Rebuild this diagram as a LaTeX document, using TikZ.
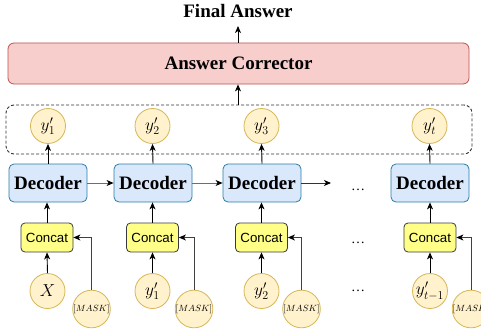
\documentclass[tikz,border=0pt]{standalone}
\usepackage[no-math]{fontspec}
\setmainfont{Liberation Serif}
\setsansfont{Liberation Sans}
\usetikzlibrary{arrows.meta}
\definecolor{ylfill}{HTML}{FFF2CC}
\definecolor{ylline}{HTML}{D6B656}
\definecolor{decfill}{HTML}{DAE8FC}
\definecolor{decline}{HTML}{2B7CA6}
\definecolor{catfill}{HTML}{FFFF88}
\definecolor{catline}{HTML}{36393D}
\definecolor{corfill}{HTML}{F8CECC}
\definecolor{corline}{HTML}{B85450}
\definecolor{hline}{HTML}{6E6E6E}
\definecolor{dashc}{HTML}{333333}
\begin{document}
\begin{tikzpicture}[x=1pt,y=-1pt,
  arr/.style={-{Stealth[length=7pt,width=6pt,inset=2pt,color=black]}, line width=0.9pt, draw=black},
  ycirc/.style={circle, draw=ylline, fill=ylfill, line width=0.8pt, minimum size=35pt, inner sep=0pt, font=\fontsize{17}{17}\selectfont},
  maskcirc/.style={circle, draw=ylline, fill=ylfill, line width=0.8pt, minimum size=36pt, inner sep=0pt, font=\fontsize{8.7}{9}\selectfont},
  decbox/.style={rectangle, rounded corners=5pt, draw=decline, fill=decfill, line width=0.8pt, minimum width=78pt, minimum height=38pt, inner sep=0pt, font=\fontsize{19}{19}\selectfont\bfseries},
  catbox/.style={rectangle, rounded corners=4pt, draw=catline, fill=catfill, line width=0.8pt, minimum width=52pt, minimum height=29pt, inner sep=0pt, font=\sffamily\fontsize{13.3}{14}\selectfont},
  dotsnode/.style={anchor=base, inner sep=0pt, font=\fontsize{14}{14}\selectfont},
]
\clip (0,0) rectangle (481,329);

% top
\node[inner sep=0pt, font=\fontsize{19}{19}\selectfont\bfseries] (fin) at (238,11) {Final Answer};
\node[rectangle, rounded corners=6pt, draw=corline, fill=corfill, line width=0.8pt, minimum width=461pt, minimum height=41pt, inner sep=0pt, font=\fontsize{19}{19}\selectfont\bfseries] (corr) at (238.5,63.5) {Answer Corrector};
\coordinate (finend) at (238,26);
\draw[arr] (corr.north -| finend) -- (finend);

\node[draw=dashc, dashed, dash pattern=on 3pt off 2pt, rounded corners=8pt, line width=0.9pt, minimum width=466pt, minimum height=49pt, inner sep=0pt] (ybox) at (239,129.5) {};
\draw[arr] (ybox.north -| finend) -- (corr.south -| finend);

% outputs
\node[ycirc] (o1) at (48,126) {$y'_1$};
\node[ycirc] (o2) at (152.5,126) {$y'_2$};
\node[ycirc] (o3) at (261.5,126) {$y'_3$};
\node[ycirc] (o4) at (429.5,126) {$y'_t$};

% decoders
\node[decbox] (d1) at (48,183) {Decoder};
\node[decbox] (d2) at (153,183) {Decoder};
\node[decbox] (d3) at (262,183) {Decoder};
\node[decbox] (d4) at (430,183) {Decoder};
\node[dotsnode] (dd) at (358,190) {\dots};
\coordinate (d3end) at (331,183);

\draw[arr, draw=hline] (d1) -- (d2);
\draw[arr, draw=hline] (d2) -- (d3);
\draw[arr, draw=black!80] (d3) -- (d3end);

\foreach \i in {1,2,3,4} { \draw[arr] (d\i.north) -- (o\i.south); }

% concat
\node[catbox] (c1) at (47,237.5) {Concat};
\node[catbox] (c2) at (152.5,237.5) {Concat};
\node[catbox] (c3) at (261.5,237.5) {Concat};
\node[catbox] (c4) at (430,237.5) {Concat};
\node[dotsnode] (cd) at (358,243) {\dots};

\foreach \i in {1,2,3,4} { \draw[arr] (c\i.north) -- (d\i.south -| c\i.north); }

% inputs
\node[ycirc] (x1) at (47.5,291) {$X$};
\node[ycirc] (x2) at (152.5,291) {$y'_1$};
\node[ycirc] (x3) at (261.5,291) {$y'_2$};
\node[ycirc] (x4) at (430,291) {$y'_{t-1}$};
\node[dotsnode] (xd) at (358,291) {\dots};

\node[maskcirc] (m1) at (91.5,309) {$[MASK]$};
\node[maskcirc] (m2) at (194,309) {$[MASK]$};
\node[maskcirc] (m3) at (301.5,309) {$[MASK]$};
\node[maskcirc] (m4) at (471,309) {$[MASK]$};

\foreach \i in {1,2,3,4} {
  \draw[arr] (x\i.north) -- (c\i.south);
  \draw[arr, draw=black!75] (m\i.north) |- (c\i.east);
}
\end{tikzpicture}
\end{document}
